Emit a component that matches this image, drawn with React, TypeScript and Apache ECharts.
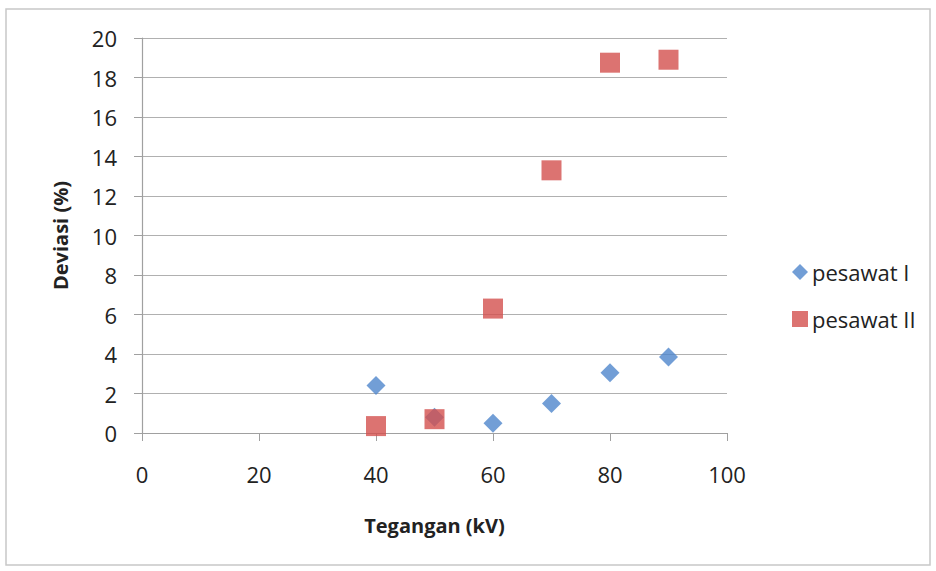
import React, { useEffect, useRef } from "react";
import * as echarts from "echarts";

const seriesNames = ["pesawat I", "pesawat II"];
const tegangan = [40, 50, 60, 70, 80, 90];
const pesawatI = [2.4, 0.8, 0.5, 1.5, 3.05, 3.85];
const pesawatII = [0.35, 0.7, 6.3, 13.3, 18.75, 18.9];

const FONT = "'Open Sans', 'Noto Sans', sans-serif";
const TEXT = "#222222";

export default function App() {
  const ref = useRef<HTMLDivElement>(null);
  useEffect(() => {
    if (!ref.current) return;
    const chart = echarts.init(ref.current, null, { renderer: "svg" });
    chart.setOption({
      animation: false,
      backgroundColor: "#ffffff",
      textStyle: { fontFamily: FONT },
      graphic: [
        {
          type: "rect",
          shape: { x: 6, y: 9, width: 924, height: 556 },
          style: { fill: "none", stroke: "#c8c8c8", lineWidth: 1.5 },
          silent: true,
        },
      ],
      grid: { left: 142, right: 209, top: 38, bottom: 138 },
      legend: {
        orient: "vertical",
        left: 787,
        top: 256,
        itemGap: 25,
        itemWidth: 16,
        itemHeight: 16,
        textStyle: { fontSize: 22, color: TEXT, fontFamily: FONT, padding: [0, 0, 0, -1] },
        data: [
          { name: seriesNames[0], icon: "diamond" },
          { name: seriesNames[1], icon: "rect" },
        ],
      },
      xAxis: {
        type: "value",
        min: 0,
        max: 100,
        interval: 20,
        name: "Tegangan (kV)",
        nameLocation: "middle",
        nameGap: 82,
        nameTextStyle: { fontSize: 20, fontWeight: "bold", color: TEXT, fontFamily: FONT },
        axisLine: { show: true, lineStyle: { color: "#a0a0a0", width: 1.2 } },
        axisTick: { show: true, inside: false, length: 8, lineStyle: { color: "#a0a0a0" } },
        axisLabel: { fontSize: 22, color: TEXT, margin: 30, fontFamily: FONT },
        splitLine: { show: false },
      },
      yAxis: {
        type: "value",
        min: 0,
        max: 20,
        interval: 2,
        name: "Deviasi (%)",
        nameLocation: "middle",
        nameGap: 72,
        nameTextStyle: { fontSize: 20, fontWeight: "bold", color: TEXT, fontFamily: FONT },
        axisLine: { show: true, lineStyle: { color: "#a0a0a0", width: 1.2 } },
        axisTick: { show: true, inside: false, length: 8, lineStyle: { color: "#a0a0a0" } },
        axisLabel: { fontSize: 22, color: TEXT, margin: 25, fontFamily: FONT },
        splitLine: { show: true, lineStyle: { color: "#b0b0b0", width: 1.2 } },
      },
      series: [
        {
          name: seriesNames[0],
          type: "scatter",
          symbol: "diamond",
          symbolSize: 19,
          itemStyle: { color: "#4F86CC" },
          data: tegangan.map((x, i) => [x, pesawatI[i]]),
        },
        {
          name: seriesNames[1],
          type: "scatter",
          symbol: "rect",
          symbolSize: 20,
          itemStyle: { color: "#D3504E" },
          data: tegangan.map((x, i) => [x, pesawatII[i]]),
        },
      ],
    });
    return () => chart.dispose();
  }, []);
  return (
    <div
      ref={ref}
      style={{ position: "fixed", left: 0, top: 0, width: 936, height: 571 }}
    />
  );
}
